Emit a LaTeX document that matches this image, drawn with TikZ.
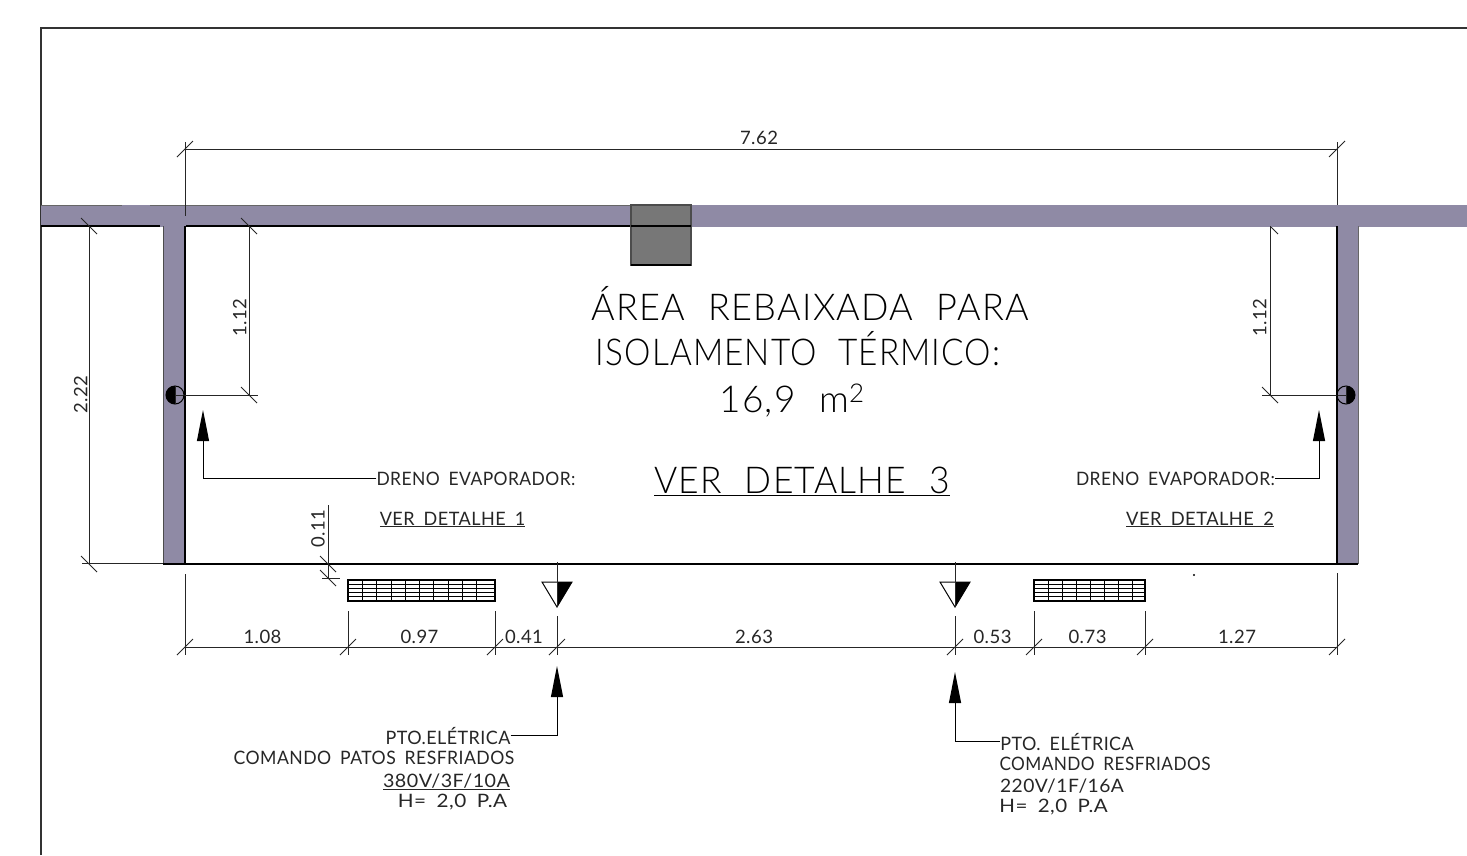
\documentclass[tikz,border=0pt]{standalone}
\usepackage{fontspec}
\setmainfont{Lato}[UprightFont=* Light]
\newfontfamily\cadsmall{Lato}[LetterSpace=2.5,WordSpace=1.8]
\newfontfamily\cadbig{Lato}[UprightFont=* Light,LetterSpace=3.5,WordSpace=2.1]
\usetikzlibrary{arrows.meta}
\definecolor{wallcol}{HTML}{8F8AA5}
\definecolor{boxcol}{HTML}{777777}
\tikzset{
  dimline/.style={line width=1pt,black!85},
  heavy/.style={line width=1.6pt,black},
  leader/.style={line width=1pt,black,-{Triangle[length=31pt,width=12pt]}},
  dimtext/.style={inner sep=0pt,font=\cadsmall\fontsize{18.5}{18.5}\selectfont,text=black!85},
  notetext/.style={inner sep=0pt,anchor=base,transform shape,font=\cadsmall\fontsize{18.5}{18.5}\selectfont,text=black!85},
  bigtext/.style={inner sep=0pt,anchor=base,transform shape,font=\cadbig\fontsize{37}{37}\selectfont},
  grille/.style={line width=0.8pt,black},
}
\begin{document}
\begin{tikzpicture}[x=1pt,y=-1pt]
\useasboundingbox (0,0) rectangle (1467,855);
% frame
\draw[line width=1.6pt,black!80] (41,855) -- (41,28) -- (1467,28);

% dimension ends
\path (185,149) coordinate (topA);
\path (1337,149) coordinate (topB);
\path (89,226) coordinate (leftA);
\path (89,564) coordinate (leftB);
\path (249,226) coordinate (drainA);
\path (249,395) coordinate (drainB);
\path (1270,226) coordinate (drainC);
\path (1270,395) coordinate (drainD);
\path (328,564) coordinate (gapA);
\path (328,578) coordinate (gapB);
\path (185,647) coordinate (b1);
\path (348,647) coordinate (b2);
\path (495,647) coordinate (b3);
\path (557,647) coordinate (b4);
\path (955,647) coordinate (b5);
\path (1034,647) coordinate (b6);
\path (1145,647) coordinate (b7);
\path (1337,647) coordinate (b8);

% this tick goes under the wall
\draw[dimline,shift={(drainC)}] (-8,-8) -- (8,8);
\draw[dimline] (1337,142) -- (1337,205);

% walls
\fill[wallcol] (41,205) rectangle (1467,226.5);
\fill[wallcol] (163,226) rectangle (185,564);
\fill[wallcol] (1337,226) rectangle (1358,564);
\draw[line width=1pt,black!60] (41,205) -- (122,205);
\draw[line width=1pt,black!60] (150,205) -- (630,205);
\draw[heavy] (41,226) -- (160,226);
\draw[heavy] (186,226) -- (630,226);
\draw[line width=1pt,black!70] (163,226) -- (163,564);
\draw[heavy] (185,226) -- (185,564);
\draw[heavy] (1337,226) -- (1337,564);
\draw[line width=1pt,black!60] (1358,226) -- (1358,564);
\draw[heavy] (163,564) -- (1358,564);

% column
\draw[line width=1.2pt,black!70,fill=boxcol] (631,205) rectangle (691,265);
\draw[heavy] (631,226) -- (691,226);
\draw[heavy] (631,265) -- (691,265);

% dimension lines
\draw[dimline] (topA) -- node[dimtext,above=4pt,xshift=-2pt]{7.62} (topB);
\draw[dimline] (185,142) -- (185,216);
\draw[dimline] (leftA) -- node[dimtext,rotate=90,above=1pt,pos=0.5]{2.22} (leftB);
\draw[dimline] (82,563) -- (163,563);
\draw[dimline] (drainA) -- node[dimtext,rotate=90,above=2pt,pos=0.54]{1.12} (drainB);
\draw[dimline] (175,395) -- (258,395);
\draw[dimline] (drainC) -- node[dimtext,rotate=90,above=3pt,pos=0.54]{1.12} (drainD);
\draw[dimline] (1262,395) -- (1346,395);
\draw[dimline] (328,505) -- (gapB);
\draw[dimline] (322,578) -- (340,578);
\path (318,529) node[dimtext,rotate=90] (gaplabel) {0.11};

\draw[dimline] (b1) -- node[dimtext,above=3pt,xshift=-4pt]{1.08} (b2);
\draw[dimline] (b2) -- node[dimtext,above=3pt,xshift=-2pt]{0.97} (b3);
\draw[dimline] (b3) -- node[dimtext,above=3pt,xshift=-2pt]{0.41} (b4);
\draw[dimline] (b4) -- node[dimtext,above=3pt,xshift=-2pt]{2.63} (b5);
\draw[dimline] (b5) -- node[dimtext,above=3pt,xshift=-2pt]{0.53} (b6);
\draw[dimline] (b6) -- node[dimtext,above=3pt,xshift=-2pt]{0.73} (b7);
\draw[dimline] (b7) -- node[dimtext,above=3pt,xshift=-4pt]{1.27} (b8);
\draw[dimline] (185,574) -- (185,655);
\draw[dimline] (348,611) -- (348,655);
\draw[dimline] (495,611) -- (495,655);
\draw[dimline] (557,616) -- (557,655);
\draw[dimline] (955,616) -- (955,655);
\draw[dimline] (1034,611) -- (1034,655);
\draw[dimline] (1145,611) -- (1145,655);
\draw[dimline] (1337,573) -- (1337,655);

% ticks
\foreach \n in {leftA,leftB,drainA,drainB,drainD,gapA,gapB}
  \draw[dimline,shift={(\n)}] (-8,-8) -- (8,8);
\foreach \n in {topA,topB,b1,b2,b3,b4,b5,b6,b7,b8}
  \draw[dimline,shift={(\n)}] (-8,8) -- (8,-8);

% drain points
\fill[black] (175,386) arc (270:90:9) -- cycle;
\draw[line width=1pt] (175,395) circle (9);
\draw[dimline] (175,386) -- (175,404);
\fill[black] (1346,386) arc (270:450:9) -- cycle;
\draw[line width=1pt] (1346,395) circle (9);
\draw[dimline] (1346,386) -- (1346,404);

% grilles
\draw[heavy] (348,580) rectangle (495,601);
\foreach \i in {1,...,9} \draw[grille] (348+14.3*\i,580) -- (348+14.3*\i,601);
\foreach \j in {1,...,4} \draw[grille] (348,580+4.2*\j) -- (495,580+4.2*\j);
\draw[heavy] (1034,580) rectangle (1145,601);
\foreach \i in {1,...,7} \draw[grille] (1034+14*\i,580) -- (1034+14*\i,601);
\foreach \j in {1,...,4} \draw[grille] (1034,580+4.2*\j) -- (1145,580+4.2*\j);

% switch symbols
\foreach \s in {557,955} {
  \draw[line width=1pt,fill=white] (\s-15,582) -- (\s+15,582) -- (\s,607) -- cycle;
  \fill[black] (\s,582) -- (\s+15,582) -- (\s,607) -- cycle;
  \draw[dimline] (\s,562) -- (\s,607);
}
\fill[black] (1194,575) circle (1.2);

% main texts
\path (810,320) node[bigtext,xscale=0.975] (area) {ÁREA REBAIXADA PARA};
\path (798,365) node[bigtext,xscale=0.9] (isol) {ISOLAMENTO TÉRMICO:};
\path (792,412) node[bigtext] (m2) {16,9 m\textsuperscript{2}};
\path (802,493) node[bigtext,xscale=0.958] (ver3) {\underline{VER DETALHE 3}};

% notes and leaders
\path (476,485) node[notetext,xscale=0.943] (dreno1) {DRENO EVAPORADOR:};
\path (452.5,525) node[notetext,xscale=0.975] (ver1) {\underline{VER DETALHE 1}};
\path (1175.5,485) node[notetext,xscale=0.943] (dreno2) {DRENO EVAPORADOR:};
\path (1200,525) node[notetext,xscale=0.99] (ver2) {\underline{VER DETALHE 2}};
\path (203,410) coordinate (tipA);
\path (1319,410) coordinate (tipB);
\draw[leader] (dreno1.west) -| (tipA);
\draw[leader] (dreno2.east) -| (tipB);

\path (448,744) node[notetext,xscale=0.97] (pto1) {PTO.ELÉTRICA};
\path (374,764) node[notetext,xscale=0.952] (cmd1) {COMANDO PATOS RESFRIADOS};
\path (446.5,787) node[notetext,xscale=1.065] (volt1) {\underline{380V/3F/10A}};
\path (452.5,807) node[notetext,xscale=1.12] (h1) {H= 2,0 P.A};
\path (557,666) coordinate (tipC);
\draw[leader] (pto1.east) -| (tipC);

\path (1067,750) node[notetext,xscale=0.97] (pto2) {PTO. ELÉTRICA};
\path (1105,770) node[notetext,xscale=0.93] (cmd2) {COMANDO RESFRIADOS};
\path (1062,792) node[notetext,xscale=1.04] (volt2) {220V/1F/16A};
\path (1053.5,812) node[notetext,xscale=1.11] (h2) {H= 2,0 P.A};
\path (955,672) coordinate (tipD);
\draw[leader] (pto2.west) -| (tipD);
\end{tikzpicture}
\end{document}
